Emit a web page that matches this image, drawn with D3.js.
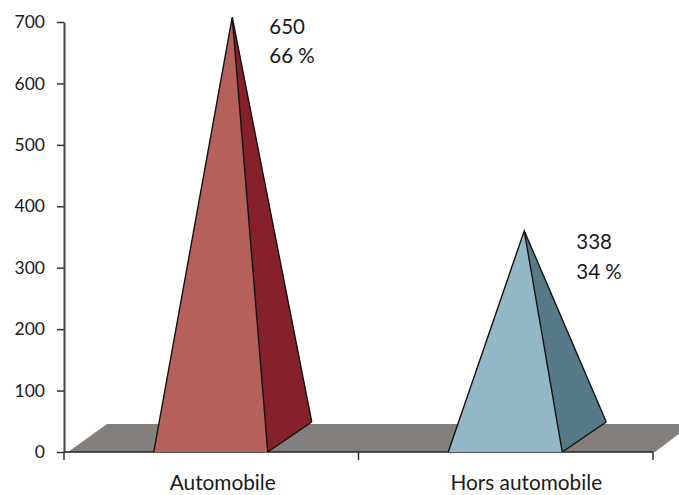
<!DOCTYPE html>
<html><head><meta charset="utf-8">
<script src="https://cdn.jsdelivr.net/npm/d3@7/dist/d3.min.js"></script>
<style>html,body{margin:0;padding:0;background:#fff}svg{display:block}text{font-family:Lato,"Open Sans",sans-serif;fill:#1a1a1a}</style>
</head><body><div id="c"></div>
<script>
const categories = ["Automobile", "Hors automobile"];
const drawnHeights = [708, 360];
const valueLabels = ["650", "338"];
const percentLabels = ["66 %", "34 %"];
const yTicks = [0, 100, 200, 300, 400, 500, 600, 700];
const frontColors = ["#b5605a", "#93b8c5"];
const sideColors = ["#86202a", "#567a87"];

const W = 679, H = 495;
const svg = d3.select("#c").append("svg").attr("width", W).attr("height", H);
const y = d3.scaleLinear().domain([0, 700]).range([452, 22]);
const x = d3.scaleBand().domain(categories).range([64, 653]);
const baseHalf = 57, depthX = 44, depthY = -30;
const apexShift = [21.5, 19], labelShift = [12, 21];
const line = d3.line();

// floor
svg.append("path")
  .attr("d", line([[68, y(0)], [68 + 39, y(0) - 28], [692, y(0) - 28], [655, y(0)]]))
  .attr("fill", "#827f7c");

// axes
const yAxis = d3.axisLeft(y).tickValues(yTicks).tickSize(7).tickPadding(12).tickSizeOuter(0);
const gy = svg.append("g").attr("transform", "translate(64,0)").call(yAxis);
gy.selectAll("text").style("font-size", "17.5px").attr("fill", "#1a1a1a");
gy.select(".domain").attr("stroke", "#444").attr("stroke-width", 2);
gy.selectAll("line").attr("stroke", "#333").attr("stroke-width", 1.5);

const xAxisLine = svg.append("g").attr("transform", `translate(0,${y(0)})`);
xAxisLine.append("path").attr("d", line([[x.range()[0], 0], [x.range()[1], 0]])).attr("stroke", "#222").attr("stroke-width", 1.5).attr("fill", "none");
const xTicks = [x.range()[0], x(categories[1]), x.range()[1]];
xAxisLine.selectAll("line").data(xTicks).join("line")
  .attr("x1", d => d).attr("x2", d => d).attr("y1", 0).attr("y2", 8)
  .attr("stroke", "#333").attr("stroke-width", 1.5);

// pyramids
categories.forEach((c, i) => {
  const cx = x(c) + x.bandwidth() / 2 - 0.5;
  const apex = [cx + apexShift[i], y(drawnHeights[i])];
  const fl = [cx - baseHalf, y(0)], fr = [cx + baseHalf, y(0)], br = [fr[0] + depthX, y(0) + depthY];
  svg.append("path").attr("d", line([fr, br, apex]) + "Z").attr("fill", sideColors[i]);
  svg.append("path").attr("d", line([fl, fr, apex]) + "Z").attr("fill", frontColors[i]);
  svg.append("path").attr("d", line([fl, apex, br]) + line([fr, apex]) + line([fr, br]))
    .attr("fill", "none").attr("stroke", "#111").attr("stroke-width", 1.4);
  const lx = apex[0] + 37 + (i ? 15 : 0);
  svg.append("text").attr("x", lx).attr("y", i ? 249 : 34).style("font-size", "20.5px").text(valueLabels[i]);
  svg.append("text").attr("x", lx).attr("y", i ? 279 : 63).style("font-size", "20.5px").text(percentLabels[i]);
  svg.append("text").attr("x", cx + labelShift[i]).attr("y", 490).attr("text-anchor", "middle").style("font-size", "20.8px").text(c);
});
</script></body></html>
